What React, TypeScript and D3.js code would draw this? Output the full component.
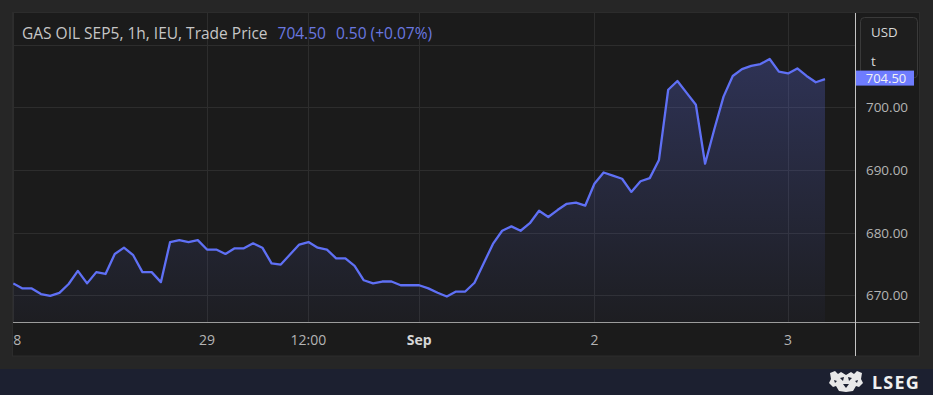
import React, { useRef, useEffect } from "react";
import * as d3 from "d3";

// hourly trade prices, GAS OIL SEP5 (IEU)
const prices = [
  671.9, 671.1, 671.1, 670.2, 669.9, 670.4, 671.8, 673.9, 671.9, 673.7,
  673.4, 676.6, 677.6, 676.4, 673.7, 673.7, 672.1, 678.5, 678.8, 678.5,
  678.8, 677.3, 677.3, 676.6, 677.5, 677.5, 678.3, 677.6, 675.1, 674.9,
  676.5, 678.1, 678.5, 677.6, 677.3, 675.9, 675.9, 674.7, 672.4, 671.9,
  672.2, 672.2, 671.6, 671.6, 671.6, 671.1, 670.4, 669.8, 670.6, 670.6,
  672.0, 675.1, 678.2, 680.3, 681.0, 680.3, 681.5, 683.5, 682.5, 683.6,
  684.6, 684.8, 684.3, 687.8, 689.6, 689.1, 688.6, 686.5, 688.2, 688.7,
  691.6, 702.8, 704.2, 702.3, 700.4, 691.0, 696.5, 701.7, 705.0, 706.1,
  706.6, 706.9, 707.7, 705.7, 705.4, 706.2, 705.0, 704.0, 704.5,
];

// bar index of each time label
const xTickIndex = [0, 21, 32, 44, 63, 84];
const xTickLabels = ["28", "29", "12:00", "Sep", "2", "3"];
const yGridValues = [670, 680, 690, 700, 710];
const yLabelValues = [670, 680, 690, 700];

const lastPrice = 704.5;
const change = 0.5;
const changePct = 0.07;

const App = () => {
  const svgRef = useRef<SVGSVGElement>(null);
  const width = 933;
  const height = 395;

  useEffect(() => {
    const plot = { left: 13, right: 855, top: 13, bottom: 322.7 };
    const font = "'Open Sans', 'Noto Sans', sans-serif";

    const svg = d3.select(svgRef.current).attr("width", width).attr("height", height);
    svg.selectAll("*").remove();

    const xScale = d3.scaleLinear().domain([0, prices.length - 1]).range([13.3, 825]);
    const yScale = d3.scaleLinear().domain([670, 700]).range([295.3, 107.3]);

    // page and panels
    svg.append("rect").attr("width", width).attr("height", height).attr("fill", "#262626");
    svg.append("rect")
      .attr("x", 12.5).attr("y", 12.5).attr("width", 907).attr("height", 343.5)
      .attr("fill", "#1b1b1b").attr("stroke", "#2c2c2c");
    svg.append("rect").attr("x", 0).attr("y", 369).attr("width", width).attr("height", 26).attr("fill", "#1c2030");

    const defs = svg.append("defs");
    defs.append("clipPath").attr("id", "plotClip")
      .append("rect")
      .attr("x", plot.left).attr("y", plot.top)
      .attr("width", plot.right - plot.left).attr("height", plot.bottom - plot.top);

    const grad = defs.append("linearGradient")
      .attr("id", "areaFill")
      .attr("gradientUnits", "userSpaceOnUse")
      .attr("x1", 0).attr("x2", 0)
      .attr("y1", yScale(d3.max(prices)!)).attr("y2", plot.bottom);
    grad.append("stop").attr("offset", "0%").attr("stop-color", "#6272f2").attr("stop-opacity", 0.27);
    grad.append("stop").attr("offset", "100%").attr("stop-color", "#6272f2").attr("stop-opacity", 0.03);

    const g = svg.append("g").attr("clip-path", "url(#plotClip)");

    // grid
    g.selectAll(".hgrid").data(yGridValues).enter().append("line")
      .attr("x1", plot.left).attr("x2", plot.right)
      .attr("y1", (d) => Math.round(yScale(d)) + 0.5).attr("y2", (d) => Math.round(yScale(d)) + 0.5)
      .attr("stroke", "#2d2d2d");
    g.selectAll(".vgrid").data(xTickIndex).enter().append("line")
      .attr("x1", (d) => Math.round(xScale(d)) + 0.5).attr("x2", (d) => Math.round(xScale(d)) + 0.5)
      .attr("y1", plot.top).attr("y2", plot.bottom)
      .attr("stroke", "#2d2d2d");

    // area + line
    const area = d3.area<number>()
      .x((d, i) => xScale(i))
      .y0(plot.bottom)
      .y1((d) => yScale(d));
    g.append("path").datum(prices).attr("d", area).attr("fill", "url(#areaFill)");

    const line = d3.line<number>()
      .x((d, i) => xScale(i))
      .y((d) => yScale(d));
    g.append("path").datum(prices).attr("d", line)
      .attr("fill", "none").attr("stroke", "#5f70f5")
      .attr("stroke-width", 2.3).attr("stroke-linejoin", "round");

    // axes lines
    svg.append("line")
      .attr("x1", plot.left).attr("x2", 919.5)
      .attr("y1", 322.5).attr("y2", 322.5)
      .attr("stroke", "#9c9c9c");
    svg.append("line")
      .attr("x1", 855.5).attr("x2", 855.5)
      .attr("y1", 13).attr("y2", 356)
      .attr("stroke", "#c4c4c4");

    // x labels
    defs.append("clipPath").attr("id", "xLabClip")
      .append("rect").attr("x", 13).attr("y", 323).attr("width", 842).attr("height", 33);
    const xLab = svg.append("g").attr("clip-path", "url(#xLabClip)");
    xLab.selectAll("text").data(xTickIndex).enter().append("text")
      .attr("x", (d) => xScale(d))
      .attr("y", 345)
      .attr("text-anchor", "middle")
      .attr("font-family", font)
      .attr("font-size", 14)
      .attr("font-weight", (d, i) => (xTickLabels[i] === "Sep" ? 700 : 400))
      .attr("fill", (d, i) => (xTickLabels[i] === "Sep" ? "#d6d6d6" : "#b4b4b4"))
      .text((d, i) => xTickLabels[i]);

    // y labels
    svg.selectAll(".ylab").data(yLabelValues).enter().append("text")
      .attr("x", 887)
      .attr("y", (d) => yScale(d) + 5)
      .attr("text-anchor", "middle")
      .attr("font-family", font)
      .attr("font-size", 13.5)
      .attr("fill", "#b4b4b4")
      .text((d) => d.toFixed(2));

    // unit box
    svg.append("rect")
      .attr("x", 860.5).attr("y", 17.5).attr("width", 57).attr("height", 60.5).attr("rx", 4)
      .attr("fill", "#1e1e1e").attr("stroke", "#3a3a3a");
    svg.append("text").attr("x", 871).attr("y", 37).attr("font-family", font)
      .attr("font-size", 13.3).attr("fill", "#d8d8d8").text("USD");
    svg.append("text").attr("x", 871).attr("y", 66).attr("font-family", font)
      .attr("font-size", 13.3).attr("fill", "#d8d8d8").text("t");

    // last price label
    svg.append("rect")
      .attr("x", 856).attr("y", yScale(lastPrice) - 8.5).attr("width", 58).attr("height", 15)
      .attr("fill", "#6e7cff");
    svg.append("text")
      .attr("x", 886).attr("y", yScale(lastPrice) + 4.3)
      .attr("text-anchor", "middle")
      .attr("font-family", font).attr("font-size", 13).attr("fill", "#f2f2f2")
      .text(lastPrice.toFixed(2));

    // title
    const title = svg.append("text").attr("x", 22).attr("y", 38.5)
      .attr("font-family", font).attr("font-size", 15.5);
    title.append("tspan").attr("fill", "#c6c6c6").text("GAS OIL SEP5, 1h, IEU, Trade Price");
    title.append("tspan").attr("fill", "#6a78e0").attr("dx", 10).text(lastPrice.toFixed(2));
    title.append("tspan").attr("fill", "#6a78e0").attr("dx", 10)
      .text(`${change.toFixed(2)} (+${changePct.toFixed(2)}%)`);

    // LSEG mark
    const logo = svg.append("g").attr("transform", "translate(829,370)");
    logo.append("path")
      .attr("d", "M1,3 L6,1 L9,4 L12,2 L17,5 L22,2 L25,4 L28,1 L33,3 L32,9 L34,13 L30,17 L27,16 L24,21 L17,22 L10,21 L7,16 L4,17 L0,13 L2,9 Z")
      .attr("fill", "#e8e8e8");
    logo.append("path")
      .attr("d", "M11,8 L15,7 L14,11 Z M19,7 L23,8 L20,11 Z M14,14 L20,14 L17,18 Z M5,10 L8,11 L6,13 Z M26,11 L29,10 L28,13 Z")
      .attr("fill", "#1c2030");
    svg.append("text")
      .attr("x", 872).attr("y", 388.5)
      .attr("font-family", "'Noto Sans', sans-serif").attr("font-size", 18)
      .attr("font-weight", 700).attr("letter-spacing", 1.2).attr("fill", "#f0f0f0")
      .text("LSEG");
  }, []);

  return (
    <div style={{ position: "absolute", left: 0, top: 0 }}>
      <svg ref={svgRef} style={{ display: "block" }}></svg>
    </div>
  );
};

export default App;
